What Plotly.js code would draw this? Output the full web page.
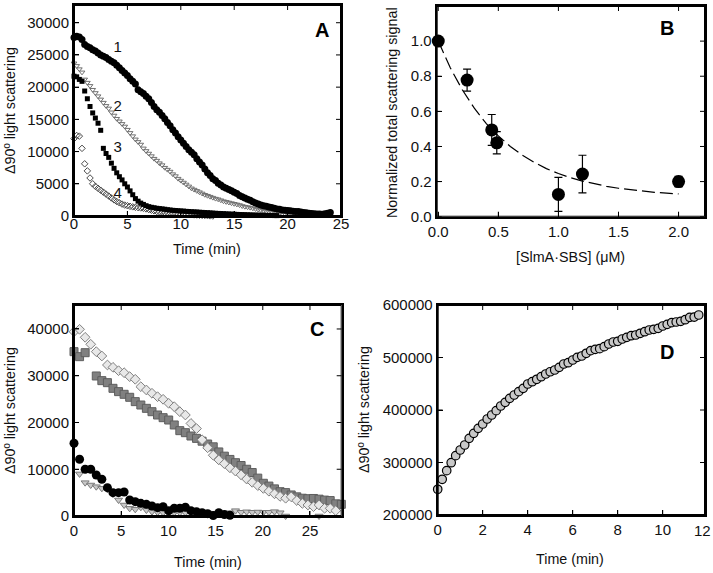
<!DOCTYPE html>
<html>
<head>
<meta charset="utf-8">
<script src="https://cdn.plot.ly/plotly-3.0.1.min.js"></script>
<style>html,body{margin:0;padding:0;background:#fff;overflow:hidden;}#chart{width:713px;height:573px;}</style>
</head>
<body>
<div id="chart"></div>
<script>
// ---------- Panel A (sampling step in min) ----------
const A_STEP = 0.25;
const A_curve1 = [27700,27900,27800,27400,26600,26300,26100,25800,25600,25300,25000,24800,24600,24300,24000,23800,23400,23000,22600,22200,21800,21300,20900,20500,19600,19300,19000,18600,18200,17600,17000,16500,16100,15600,15100,14500,14000,13400,12900,12300,11800,11300,10800,10300,9900,9500,8900,8400,7900,7300,6700,6300,5800,5500,5100,4800,4500,4300,4100,3900,3700,3500,3200,3000,2800,2600,2450,2200,2000,1850,1700,1600,1500,1400,1300,1200,1100,1050,950,900,850,800,750,700,680,640,560,500,430,400,350,320,300,280,330,420,550];
const A_curve2 = [23700,23300,22800,22300,21200,20700,20200,19600,19100,18600,18100,17600,17100,16700,16100,15600,15100,14700,14300,13900,13400,12900,12400,11900,11500,11100,10500,10100,9700,9300,8900,8600,8200,7900,7500,7200,6900,6500,6200,5800,5500,5200,4900,4600,4300,4100,3900,3700,3500,3300,3150,3000,2850,2700,2600,2450,2300,2200,2100,2000,1900,1800,1700,1550,1450,1380,1300,1200,1100,1000,900,800,700,650,580,520,480,420,380,330,280,200,180,170,160,150];
const A_curve3 = [21700,21600,21200,20900,19400,18200,17000,16000,15200,14400,13300,10500,9700,9100,8200,7400,6700,6100,5600,5000,4500,3900,3300,2700,2300,2000,1800,1600,1450,1350,1280,1200,1150,1100,1050,980,930,880,850,820,780,760,720,700,660,640,620,580,560,530,510,480,450,420,400,380,360,330,310,290,270,250,230,220,200,180,170,150,140,130,120,110,100,90,80,70,60];
const A_curve4 = [12000,12500,12400,10500,8100,7000,5900,5000,4600,4300,4000,3700,3400,3100,2800,2500,2250,2050,1850,1700,1600,1500,1420,1350,1300,1250,1200,1100,1000,900,800,700,650,600,550,500,450,420,380,350,320,300,260,230,200,170,150,120,100,80,50,20,0];
const A_labels = ["1","2","3","4"];
const A_labelX = [4.1,4.1,4.1,4.1];
const A_labelY = [26100,16900,10550,3400];
const A_xticks = [0,5,10,15,20,25];
const A_yticks = [0,5000,10000,15000,20000,25000,30000];
const A_xrange = [0, 25];
const A_yrange = [0, 32750];

// ---------- Panel B ----------
const B_conc = [0, 0.24, 0.445, 0.487, 1.0, 1.2, 2.0];
const B_signal = [1.0, 0.778, 0.494, 0.421, 0.127, 0.243, 0.2];
const B_err = [0, 0.063, 0.088, 0.063, 0.097, 0.107, 0.03];
const B_fitX = [0,0.1,0.2,0.3,0.4,0.5,0.6,0.7,0.8,0.9,1.0,1.1,1.2,1.3,1.4,1.5,1.6,1.7,1.8,1.9,2.0];
const B_fitY = [1.0,0.848,0.723,0.618,0.530,0.460,0.400,0.350,0.309,0.274,0.246,0.222,0.203,0.187,0.173,0.162,0.153,0.145,0.139,0.134,0.130];
const B_xticks = [0,0.5,1.0,1.5,2.0];
const B_yticks = [0,0.2,0.4,0.6,0.8,1.0,1.2];
const B_xrange = [-0.013, 2.22];
const B_yrange = [0, 1.2];

// ---------- Panel C (sampling step in min) ----------
const C_STEP = 0.59;
const C_diamonds = [39420,39930,38220,36730,35150,34220,32300,31800,31080,30650,29800,29240,27660,26950,26250,25520,24960,24100,23380,22310,21600,19800,18700,16300,14600,13000,12000,11200,10300,9600,8800,7900,7200,6500,5900,5300,4750,4200,3800,4100,3300,2700,2350,2000,2350,1650,1650,1150];
const C_squares = [35150,34080,34930,null,29950,28950,28520,27310,26600,26030,25390,24460,23740,23030,22310,21600,21030,20530,19470,18250,17820,17110,16600,16000,15400,14800,13700,12800,12100,11400,10800,10000,9300,8100,7000,6400,5800,5200,5000,4500,4100,3800,3700,3750,3600,3400,3300,2600,2500];
const C_circles = [15550,12130,9990,9990,8770,7850,6060,4990,4990,5130,3420,3060,2710,2500,2140,1780,1990,1140,1650,1650,1860,1140,930,700,500,100,700,300,150];
const C_triangles = [null,9000,7130,6630,6270,5920,5700,4700,3420,2350,1640,1430,1860,1280,930,780,710,500,710,710,700,650,700,600,500,600,500,600,700,1140,800,900,800,850,800,800,930,700,0,null,null,null,null,null,0];
const C_xticks = [0,5,10,15,20,25];
const C_yticks = [0,10000,20000,30000,40000];
const C_xrange = [0, 28.36];
const C_yrange = [0, 45130];

// ---------- Panel D ----------
const D_STEP = 0.2;
const D_signal = [248950,268000,284400,299600,313000,323800,333300,346000,355600,365100,373300,382900,390500,398700,407600,414600,422200,428600,434900,441300,449500,453900,458500,463400,468600,472900,476200,481300,487600,490100,495200,500300,502900,508000,513000,515600,516800,520600,525700,529500,530800,535200,538400,541500,542900,546100,549100,552400,553700,555600,560000,563200,566300,567600,568900,572000,576500,577000,581000];
const D_xticks = [0,2,4,6,8,10];
const D_yticks = [200000,300000,400000,500000,600000];
const D_xrange = [0, 11.88];
const D_yrange = [200000, 600000];

// ---------- Build ----------
const FONT = "Liberation Sans";
const TXT = "#111";
const W = 713, H = 573;
// plot boxes in pixels: [left, right, top, bottom]
const BOX = {A: [74, 341, 5, 216], B: [436.7, 705, 6, 216.7], C: [74, 341.7, 305, 516], D: [437.7, 705, 305, 515]};
const px = v => v / W, py = v => 1 - v / H;

function axisStyle(extra) {
  return Object.assign({
    showline: true, linewidth: 2, linecolor: "black", mirror: true,
    ticks: "inside", ticklen: 5, tickwidth: 1, tickcolor: "black",
    showgrid: false, zeroline: false, automargin: false,
    tickfont: {family: FONT, size: 15, color: TXT}
  }, extra);
}

// Frame and inside tick marks drawn as line traces on each subplot's own axes
function frameTraces(xa, ya, xr, yr, box, xticks, yticks) {
  const wpx = box[1] - box[0], hpx = box[3] - box[2];
  const tx = 5 * (xr[1] - xr[0]) / wpx, ty = 5 * (yr[1] - yr[0]) / hpx;
  const fx = [xr[0], xr[1], xr[1], xr[0], xr[0]];
  const fy = [yr[0], yr[0], yr[1], yr[1], yr[0]];
  const kx = [], ky = [];
  xticks.forEach(v => {
    kx.push(v, v, null, v, v, null);
    ky.push(yr[0], yr[0] + ty, null, yr[1], yr[1] - ty, null);
  });
  yticks.forEach(v => {
    kx.push(xr[0], xr[0] + tx, null, xr[1], xr[1] - tx, null);
    ky.push(v, v, null, v, v, null);
  });
  return [
    {x: kx, y: ky, xaxis: xa, yaxis: ya, mode: "lines", type: "scatter", cliponaxis: false, hoverinfo: "skip",
     connectgaps: false, line: {color: "#000", width: 1}},
    {x: fx, y: fy, xaxis: xa, yaxis: ya, mode: "lines", type: "scatter", cliponaxis: false, hoverinfo: "skip",
     line: {color: "#000", width: 2}}
  ];
}

const traces = [
  // A
  {x0: 0, dx: A_STEP, y: A_curve4, xaxis: "x", yaxis: "y", mode: "markers", type: "scatter", cliponaxis: false,
   marker: {symbol: "diamond-open", size: 5, color: "#4a4a4a", line: {width: 1, color: "#4a4a4a"}}},
  {x0: 0, dx: A_STEP, y: A_curve2, xaxis: "x", yaxis: "y", mode: "markers", type: "scatter", cliponaxis: false,
   marker: {symbol: "triangle-down-open", size: 5, color: "#707070", line: {width: 1, color: "#707070"}}},
  {x0: 0, dx: A_STEP, y: A_curve3, xaxis: "x", yaxis: "y", mode: "markers", type: "scatter", cliponaxis: false,
   marker: {symbol: "square", size: 5, color: "#000"}},
  {x0: 0, dx: A_STEP, y: A_curve1, xaxis: "x", yaxis: "y", mode: "markers", type: "scatter", cliponaxis: false,
   marker: {symbol: "circle", size: 7, color: "#000"}},
  {x: A_labelX, y: A_labelY, text: A_labels, xaxis: "x", yaxis: "y", mode: "text", type: "scatter",
   textfont: {family: FONT, size: 15, color: TXT}, textposition: "middle center", cliponaxis: false},
  // B
  {x: B_fitX, y: B_fitY, xaxis: "x2", yaxis: "y2", mode: "lines", type: "scatter",
   line: {color: "#000", width: 1.2, dash: "13px,5px"}},
  {x: B_conc, y: B_signal, xaxis: "x2", yaxis: "y2", mode: "markers", type: "scatter", cliponaxis: false,
   error_y: {type: "data", array: B_err, visible: true, color: "#000", thickness: 1.2, width: 4},
   marker: {symbol: "circle", size: 13, color: "#000"}},
  // C
  {x0: 0, dx: C_STEP, y: C_triangles, xaxis: "x3", yaxis: "y3", mode: "markers", type: "scatter", cliponaxis: false,
   marker: {symbol: "triangle-down", size: 7, color: "#c8c8c8", line: {width: 1, color: "#7a7a7a"}}},
  {x0: 0, dx: C_STEP, y: C_circles, xaxis: "x3", yaxis: "y3", mode: "markers", type: "scatter", cliponaxis: false,
   marker: {symbol: "circle", size: 9, color: "#000"}},
  {x0: 0, dx: C_STEP, y: C_squares, xaxis: "x3", yaxis: "y3", mode: "markers", type: "scatter", cliponaxis: false,
   marker: {symbol: "square", size: 8, color: "#808080", line: {width: 1, color: "#5e5e5e"}}},
  {x0: 0, dx: C_STEP, y: C_diamonds, xaxis: "x3", yaxis: "y3", mode: "markers", type: "scatter", cliponaxis: false,
   marker: {symbol: "diamond", size: 7.5, color: "#e8e8e8", line: {width: 1, color: "#808080"}}},
  // D
  {x0: 0, dx: D_STEP, y: D_signal, xaxis: "x4", yaxis: "y4", mode: "markers", type: "scatter", cliponaxis: false,
   marker: {symbol: "circle", size: 8.5, color: "#c8c8c8", line: {width: 1.2, color: "#000"}}}
].concat(
  frameTraces("x", "y", A_xrange, A_yrange, BOX.A, A_xticks, A_yticks),
  frameTraces("x2", "y2", B_xrange, B_yrange, BOX.B, B_xticks, B_yticks),
  frameTraces("x3", "y3", C_xrange, C_yrange, BOX.C, C_xticks, C_yticks),
  frameTraces("x4", "y4", D_xrange, D_yrange, BOX.D, D_xticks, D_yticks)
);

function ann(text, x, y, size, angle, bold) {
  return {text: text, x: px(x), y: py(y), xref: "paper", yref: "paper", showarrow: false,
          textangle: angle || 0, borderpad: 0, xanchor: "center", yanchor: "middle",
          font: {family: FONT, size: size, color: bold ? "#000" : TXT}};
}
const dom = b => ({x: [px(b[0]), px(b[1])], y: [py(b[3]), py(b[2])]});

const layout = {
  width: W, height: H, margin: {l: 0, r: 0, t: 0, b: 0, pad: 0, autoexpand: false},
  paper_bgcolor: "#fff", plot_bgcolor: "#fff", showlegend: false,
  font: {family: FONT, color: TXT},
  xaxis: axisStyle({domain: dom(BOX.A).x, range: A_xrange, dtick: 5, anchor: "y", ticklabelstandoff: -7}),
  yaxis: axisStyle({domain: dom(BOX.A).y, range: A_yrange, dtick: 5000, tickformat: "d", anchor: "x"}),
  xaxis2: axisStyle({domain: dom(BOX.B).x, range: B_xrange, dtick: 0.5, tickformat: ".1f", anchor: "y2"}),
  yaxis2: axisStyle({domain: dom(BOX.B).y, range: B_yrange, dtick: 0.2, tickformat: ".1f", anchor: "x2"}),
  xaxis3: axisStyle({domain: dom(BOX.C).x, range: C_xrange, dtick: 5, anchor: "y3"}),
  yaxis3: axisStyle({domain: dom(BOX.C).y, range: C_yrange, dtick: 10000, tickformat: "d", anchor: "x3"}),
  xaxis4: axisStyle({domain: dom(BOX.D).x, range: D_xrange, dtick: 2, anchor: "y4"}),
  yaxis4: axisStyle({domain: dom(BOX.D).y, range: D_yrange, dtick: 100000, tickformat: "d", anchor: "x4"}),
  annotations: [
    ann("<b>A</b>", 322, 30, 20, 0, true),
    ann("<b>B</b>", 667, 28, 20, 0, true),
    ann("<b>C</b>", 317, 329, 20, 0, true),
    ann("<b>D</b>", 667, 352, 20, 0, true),
    ann("Δ90º light scattering", 10, 111, 14.3, -90),
    ann("Time (min)", 207, 249, 14.3),
    ann("Normalized total scattering signal", 392, 113, 14.3, -90),
    ann("[SlmA·SBS] (μM)", 570, 257, 14.3),
    ann("Δ90º light scattering", 10, 411, 14.3, -90),
    ann("Time (min)", 208, 562, 14.3),
    ann("Δ90º light scattering", 364, 410, 14.3, -90),
    ann("Time (min)", 570, 559, 14.3),
    // "12" end label of panel D's time axis (its tick sits on the right frame)
    ann("12", 702, 530, 15)
  ]
};

Plotly.newPlot("chart", traces, layout, {displayModeBar: false});
</script>
</body>
</html>
